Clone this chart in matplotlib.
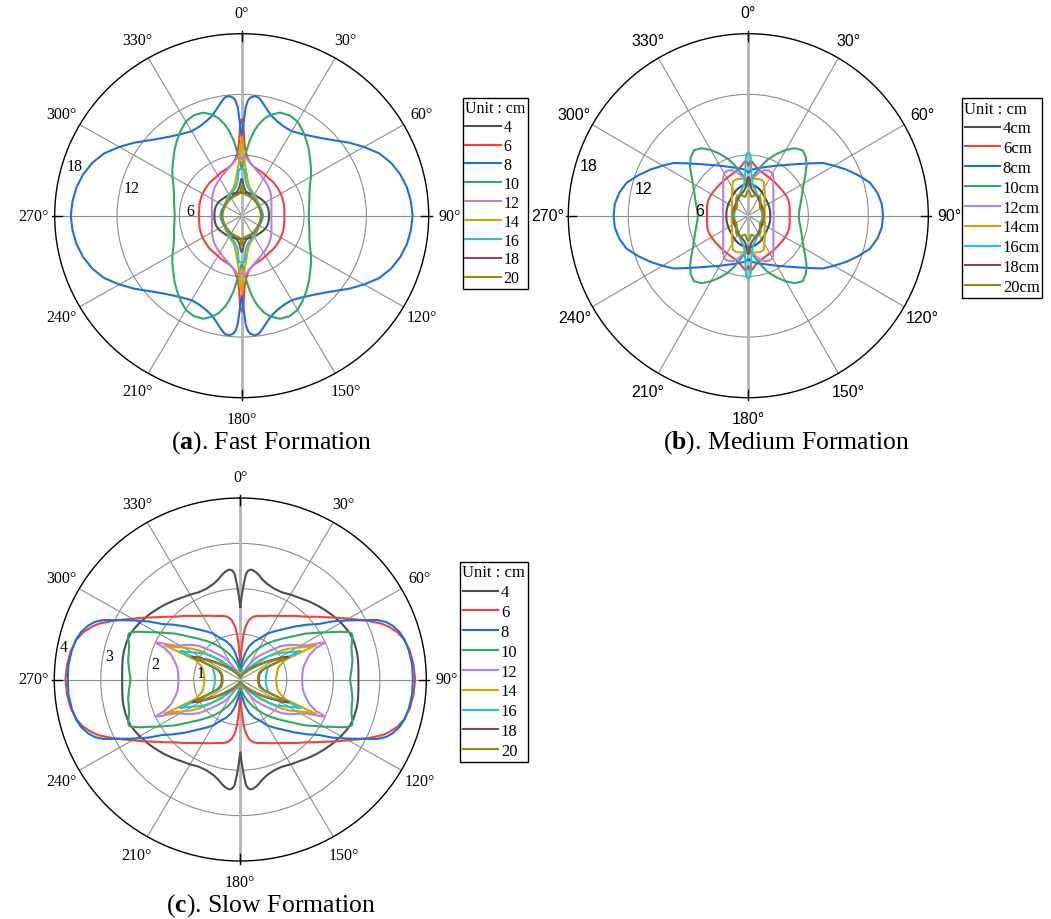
import numpy as np
import matplotlib.pyplot as plt
from matplotlib.lines import Line2D
from matplotlib.transforms import offset_copy

plt.rcParams['mathtext.fontset'] = 'custom'
plt.rcParams['mathtext.rm'] = 'Liberation Serif'
plt.rcParams['mathtext.bf'] = 'Liberation Serif:bold'

SERIF = 'Liberation Serif'
SANS = 'Liberation Sans'
W, H = 1051, 920

# ── Data ─────────────────────────────────────────────────────────────────────
# Spacing of each curve and its colour
spacings = [4, 6, 8, 10, 12, 14, 16, 18, 20]
colors = ['#4d4d4d', '#f0413c', '#1c6fe3', '#2ea865', '#b57ee8',
          '#d8a100', '#18c9d1', '#7d4c4c', '#8f8c0f']

# Radiation patterns, first quadrant only (deg, clockwise from 0°).
# Every pattern is symmetric about both axes and is mirrored when drawn.
fast_theta = [0, 1, 2, 3, 4, 6, 8, 10, 13, 16, 20, 25, 30, 35, 40, 45, 50, 55, 60, 65, 70, 75, 80, 85, 90]
fast_4 = [2.3, 2.3, 2.3, 2.3, 2.3, 2.3, 2.3, 2.3, 2.32, 2.33, 2.35, 2.37, 2.38, 2.4, 2.42, 2.45, 2.5, 2.55, 2.6, 2.63, 2.65, 2.65, 2.64, 2.63, 2.62]
fast_6 = [9.5, 9.0, 7.3, 6.6, 6.2, 5.7, 5.4, 5.2, 5.0, 4.9, 4.8, 4.72, 4.6, 4.52, 4.5, 4.47, 4.42, 4.38, 4.34, 4.3, 4.25, 4.2, 4.15, 4.12, 4.1]
fast_8 = [7.8, 9.0, 10.7, 11.4, 11.7, 11.9, 11.8, 11.4, 10.8, 10.3, 9.95, 9.7, 9.65, 9.9, 10.3, 10.85, 11.6, 12.6, 13.6, 14.6, 15.3, 15.8, 16.15, 16.35, 16.45]
fast_10 = [4.8, 5.0, 5.4, 5.8, 6.4, 7.5, 8.4, 9.1, 9.9, 10.4, 10.85, 10.95, 10.75, 10.25, 9.7, 9.15, 8.6, 8.15, 7.7, 7.25, 6.95, 6.75, 6.6, 6.5, 6.45]
fast_12 = [5.6, 5.8, 5.9, 5.9, 5.8, 5.55, 5.35, 5.2, 5.0, 4.8, 4.6, 4.4, 4.2, 4.05, 3.9, 3.75, 3.6, 3.45, 3.3, 3.15, 3.05, 2.97, 2.9, 2.87, 2.85]
fast_14 = [7.8, 6.8, 5.8, 5.2, 4.9, 4.3, 3.8, 3.45, 3.1, 2.85, 2.7, 2.55, 2.4, 2.3, 2.2, 2.12, 2.05, 2.0, 1.97, 1.95, 1.95, 1.95, 1.95, 1.96, 1.96]
fast_16 = [4.6, 4.6, 4.6, 4.6, 4.4, 3.5, 3.2, 3.0, 2.8, 2.65, 2.55, 2.45, 2.3, 2.2, 2.1, 2.05, 2.0, 1.98, 1.97, 1.97, 1.98, 2.0, 2.02, 2.05, 2.05]
fast_18 = [3.6, 3.5, 3.3, 3.1, 2.9, 2.7, 2.55, 2.45, 2.35, 2.27, 2.2, 2.12, 2.05, 2.0, 1.95, 1.92, 1.9, 1.88, 1.87, 1.87, 1.87, 1.88, 1.9, 1.9, 1.9]
fast_20 = [2.9, 2.85, 2.6, 2.35, 2.25, 2.2, 2.15, 2.12, 2.1, 2.08, 2.05, 2.02, 2.0, 1.97, 1.95, 1.92, 1.9, 1.88, 1.86, 1.85, 1.85, 1.85, 1.85, 1.85, 1.85]

medium_theta = [0, 1, 2, 3, 4, 6, 8, 10, 13, 16, 20, 25, 30, 35, 40, 45, 50, 55, 60, 65, 70, 75, 80, 85, 90]
medium_4 = [3.2, 3.2, 3.19, 3.18, 3.15, 3.12, 3.1, 3.06, 3.0, 2.95, 2.9, 2.8, 2.7, 2.6, 2.5, 2.42, 2.37, 2.33, 2.3, 2.27, 2.25, 2.23, 2.22, 2.2, 2.2]
medium_6 = [5.0, 5.2, 5.35, 5.4, 5.35, 5.15, 4.95, 4.85, 4.7, 4.55, 4.45, 4.36, 4.3, 4.25, 4.22, 4.2, 4.2, 4.22, 4.25, 4.28, 4.28, 4.25, 4.2, 4.15, 4.13]
medium_8 = [4.3, 4.35, 4.4, 4.5, 4.55, 4.62, 4.67, 4.72, 4.82, 4.95, 5.12, 5.38, 5.72, 6.1, 6.6, 7.24, 8.05, 9.1, 9.9, 10.8, 11.7, 12.6, 13.1, 13.4, 13.47]
medium_10 = [3.0, 3.1, 3.25, 3.45, 3.6, 3.85, 4.05, 4.3, 4.8, 5.3, 6.0, 6.75, 7.5, 8.15, 8.45, 8.15, 7.6, 6.95, 6.4, 6.0, 5.7, 5.45, 5.25, 5.1, 5.05]
medium_12 = [3.65, 3.65, 3.67, 3.7, 3.72, 3.77, 3.85, 4.0, 4.3, 4.55, 4.8, 4.9, 4.85, 4.4, 3.9, 3.55, 3.27, 3.07, 2.9, 2.77, 2.67, 2.6, 2.56, 2.54, 2.54]
medium_14 = [3.6, 3.6, 3.62, 3.63, 3.64, 3.66, 3.68, 3.7, 3.73, 3.76, 3.78, 3.7, 3.2, 2.85, 2.55, 2.3, 2.12, 2.0, 1.9, 1.82, 1.75, 1.7, 1.67, 1.65, 1.65]
medium_16 = [6.2, 6.15, 6.0, 5.2, 4.3, 3.6, 3.1, 2.9, 2.75, 2.6, 2.4, 2.2, 2.0, 1.85, 1.72, 1.62, 1.55, 1.5, 1.46, 1.43, 1.42, 1.41, 1.4, 1.4, 1.4]
medium_18 = [3.8, 3.7, 3.45, 3.2, 3.0, 2.75, 2.6, 2.5, 2.4, 2.3, 2.2, 2.1, 2.0, 1.9, 1.82, 1.75, 1.7, 1.65, 1.62, 1.6, 1.58, 1.56, 1.55, 1.55, 1.55]
medium_20 = [2.45, 2.45, 2.42, 2.38, 2.3, 2.1, 1.95, 1.9, 1.95, 2.05, 2.15, 2.2, 2.2, 2.1, 1.9, 1.65, 1.5, 1.42, 1.4, 1.42, 1.47, 1.5, 1.52, 1.53, 1.53]

slow_theta = [0, 1, 2, 3, 4, 5, 6, 8, 10, 12, 15, 20, 25, 30, 35, 40, 45, 50, 54, 57, 60, 62, 64, 65, 66, 67, 68, 70, 73, 76, 80, 85, 90]
slow_4 = [1.6, 1.85, 2.1, 2.33, 2.4, 2.43, 2.43, 2.39, 2.33, 2.26, 2.19, 2.13, 2.12, 2.16, 2.2, 2.26, 2.32, 2.38, 2.43, 2.46, 2.5, 2.52, 2.54, 2.55, 2.56, 2.57, 2.57, 2.58, 2.58, 2.58, 2.57, 2.55, 2.54]
slow_6 = [0.4, 0.45, 0.6, 0.8, 1.0, 1.12, 1.2, 1.32, 1.38, 1.42, 1.45, 1.49, 1.55, 1.62, 1.71, 1.83, 1.96, 2.15, 2.33, 2.5, 2.68, 2.82, 2.97, 3.05, 3.12, 3.2, 3.28, 3.4, 3.54, 3.63, 3.7, 3.74, 3.76]
slow_8 = [0.2, 0.22, 0.26, 0.3, 0.33, 0.36, 0.4, 0.47, 0.58, 0.66, 0.77, 0.9, 1.0, 1.17, 1.3, 1.45, 1.65, 1.88, 2.08, 2.35, 2.6, 2.78, 2.98, 3.1, 3.22, 3.3, 3.38, 3.48, 3.58, 3.64, 3.68, 3.71, 3.71]
slow_10 = [0.12, 0.14, 0.16, 0.18, 0.2, 0.22, 0.24, 0.27, 0.3, 0.35, 0.42, 0.53, 0.66, 0.8, 0.95, 1.1, 1.27, 1.48, 1.72, 1.88, 2.08, 2.22, 2.4, 2.48, 2.56, 2.6, 2.6, 2.56, 2.5, 2.47, 2.45, 2.4, 2.36]
slow_12 = [0.1, 0.1, 0.11, 0.12, 0.12, 0.13, 0.14, 0.15, 0.16, 0.17, 0.19, 0.21, 0.24, 0.38, 0.58, 0.72, 0.9, 1.15, 1.3, 1.4, 1.5, 1.6, 1.78, 1.92, 2.0, 1.76, 1.7, 1.58, 1.5, 1.43, 1.37, 1.34, 1.33]
slow_14 = [0.08, 0.08, 0.08, 0.08, 0.09, 0.09, 0.09, 0.1, 0.1, 0.11, 0.12, 0.14, 0.17, 0.22, 0.28, 0.36, 0.52, 0.81, 1.08, 1.25, 1.4, 1.52, 1.66, 1.8, 1.06, 1.0, 0.97, 0.91, 0.85, 0.82, 0.8, 0.78, 0.77]
slow_16 = [0.06, 0.06, 0.06, 0.07, 0.07, 0.07, 0.08, 0.08, 0.09, 0.1, 0.11, 0.13, 0.16, 0.2, 0.28, 0.4, 0.6, 0.8, 0.98, 1.08, 1.2, 1.3, 1.44, 0.66, 0.65, 0.64, 0.63, 0.62, 0.6, 0.58, 0.56, 0.55, 0.55]
slow_18 = [0.05, 0.05, 0.05, 0.05, 0.06, 0.06, 0.06, 0.07, 0.07, 0.08, 0.09, 0.1, 0.12, 0.15, 0.2, 0.28, 0.38, 0.5, 0.65, 0.78, 0.92, 1.05, 1.15, 0.6, 0.55, 0.52, 0.5, 0.47, 0.44, 0.42, 0.41, 0.4, 0.4]
slow_20 = [0.05, 0.05, 0.05, 0.05, 0.05, 0.05, 0.06, 0.06, 0.07, 0.07, 0.08, 0.09, 0.11, 0.14, 0.18, 0.25, 0.33, 0.45, 0.6, 0.72, 0.85, 0.97, 1.05, 0.55, 0.5, 0.48, 0.45, 0.43, 0.42, 0.4, 0.39, 0.38, 0.38]

fast_curves = [fast_4, fast_6, fast_8, fast_10, fast_12, fast_14, fast_16, fast_18, fast_20]
medium_curves = [medium_4, medium_6, medium_8, medium_10, medium_12, medium_14, medium_16, medium_18, medium_20]
slow_curves = [slow_4, slow_6, slow_8, slow_10, slow_12, slow_14, slow_16, slow_18, slow_20]

angle_ticks = list(range(0, 360, 30))


def mirror(theta_deg, r):
    """Unfold a first-quadrant pattern into a closed 360° curve."""
    t = np.asarray(theta_deg, dtype=float)
    r = np.asarray(r, dtype=float)
    th = np.concatenate([t, 180 - t[::-1], 180 + t, 360 - t[::-1], t[:1]])
    rr = np.concatenate([r, r[::-1], r, r[::-1], r[:1]])
    return np.deg2rad(th), rr


fig = plt.figure(figsize=(W / 100, H / 100), dpi=100)


def polar_panel(cx, cy, rx, ry, theta, curves, rmax, rgrid, font,
                rlab_angle, rlab_dx, rlab_dy):
    ax = fig.add_axes([(cx - rx) / W, 1 - (cy + ry) / H, 2 * rx / W, 2 * ry / H],
                      projection='polar')
    ax.set_aspect('auto')
    ax.set_theta_zero_location('N')
    ax.set_theta_direction(-1)
    ax.set_axisbelow(True)

    for r, c in zip(curves, colors):
        th, rr = mirror(theta, r)
        ax.plot(th, rr, color=c, lw=1.5, zorder=3)

    ax.set_ylim(0, rmax)
    ax.set_rgrids(rgrid, labels=[''] * len(rgrid))
    ax.set_thetagrids(angle_ticks, [f'{a}°' for a in angle_ticks],
                      fontfamily=font, fontsize=11.5)
    ax.tick_params(axis='x', pad=4.5)
    ax.grid(True, color='#8c8c8c', lw=0.8)
    ax.spines['polar'].set_color('black')
    ax.spines['polar'].set_linewidth(1.0)

    # 0°–180° axis drawn heavier
    for t in (0, np.pi):
        ax.plot([t, t], [0, rmax], color='#b4b4b4', lw=2.0, zorder=2)
    # short ticks on the main axes
    for t in (0, np.pi / 2, np.pi, 1.5 * np.pi):
        ax.plot([t, t], [rmax * 0.96, rmax * 1.015], color='black', lw=1.0,
                clip_on=False, zorder=4)

    trans = offset_copy(ax.transData, fig=fig, x=rlab_dx, y=rlab_dy, units='dots')
    for v in list(rgrid) + [rmax]:
        ax.text(np.deg2rad(rlab_angle), v, f'{v:g}', transform=trans,
                ha='center', va='center', fontsize=11.5, family=font)
    return ax


def panel_legend(x, y, labels, size, spacing, handle):
    handles = [Line2D([], [], color=c, lw=1.5) for c in colors]
    leg = fig.legend(handles, labels, loc='upper left',
                     bbox_to_anchor=(x / W, 1 - y / H), title='Unit : cm',
                     alignment='left', prop={'family': SERIF, 'size': size},
                     title_fontproperties={'family': SERIF, 'size': size},
                     frameon=True, fancybox=False, edgecolor='black',
                     framealpha=1, borderaxespad=0, borderpad=0.15,
                     labelspacing=spacing, handlelength=handle,
                     handletextpad=0.2)
    leg.get_frame().set_linewidth(1.0)
    return leg


# (a) fast formation
polar_panel(241.7, 216.7, 187, 182, fast_theta, fast_curves, 18, [6, 12],
            SERIF, 292, 6, -18)
panel_legend(463, 99, [str(s) for s in spacings], 11.5, 0.18, 2.2)
fig.text(272 / W, 1 - 443 / H, r'($\mathbf{a}$). Fast Formation',
         ha='center', va='center', fontsize=18.5, family=SERIF)

# (b) medium formation
polar_panel(748.3, 216.7, 180, 182, medium_theta, medium_curves, 18, [6, 12],
            SANS, 292, 7, -18)
panel_legend(962, 99, [f'{s}cm' for s in spacings], 12, 0.23, 2.1)
fig.text(786 / W, 1 - 443 / H, r'($\mathbf{b}$). Medium Formation',
         ha='center', va='center', fontsize=18.5, family=SERIF)

# (c) slow formation
polar_panel(240.3, 680.5, 186, 181.5, slow_theta, slow_curves, 4, [1, 2, 3],
            SERIF, 281, 6, -2)
panel_legend(460, 563, [str(s) for s in spacings], 12, 0.23, 2.1)
fig.text(271 / W, 1 - 906 / H, r'($\mathbf{c}$). Slow Formation',
         ha='center', va='center', fontsize=18.5, family=SERIF)

fig.savefig('out.png', dpi=100)
